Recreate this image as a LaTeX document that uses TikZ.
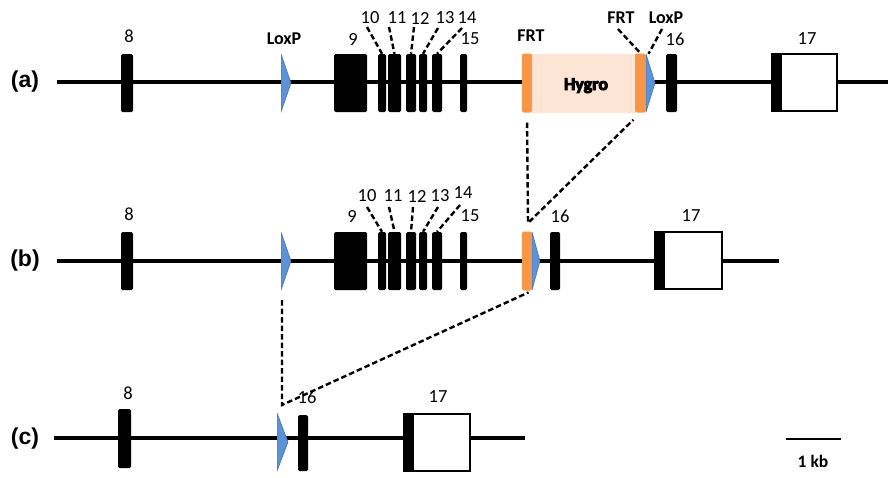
\documentclass[tikz,border=0pt]{standalone}
\usepackage{fontspec}
\setmainfont{Carlito}
\newfontfamily\arialf{Liberation Sans}
\newfontface\hygrof{Carlito Bold}[FakeBold=5]
\definecolor{loxblue}{RGB}{92,146,214}
\definecolor{loxedge}{RGB}{70,115,185}
\definecolor{frtor}{RGB}{247,150,70}
\definecolor{hygrofill}{RGB}{252,229,213}
\tikzset{
  backbone/.style={line width=4pt},
  exon/.style={fill=black, draw=none, rounded corners=1.5pt, minimum height=58pt, inner sep=0pt},
  bigexon/.style={draw=black, line width=2pt, fill=white, minimum height=57pt, inner sep=0pt,
    path picture={\fill[black] (path picture bounding box.north west) rectangle ([xshift=10pt]path picture bounding box.south west);}},
  loxp/.style={draw=none, minimum height=58pt, inner sep=0pt,
    path picture={\fill[loxblue, draw=loxedge, line width=0.6pt] (path picture bounding box.north west) -- (path picture bounding box.east) -- (path picture bounding box.south west) -- cycle;}},
  frt/.style={fill=frtor, draw=none, rounded corners=2pt, minimum height=59pt, inner sep=0pt},
  hygrobox/.style={fill=hygrofill, draw=none, minimum height=59pt, inner sep=0pt},
  num/.style={inner sep=0pt, font=\fontsize{18.5}{20}\selectfont},
  blab/.style={inner sep=0pt, font=\fontsize{18}{20}\selectfont\bfseries},
  rowlab/.style={inner sep=0pt, font=\fontsize{23}{26}\selectfont\arialf\bfseries},
  dashline/.style={line width=2.4pt, dash pattern=on 5.5pt off 3pt},
}
\begin{document}
\begin{tikzpicture}[x=1pt,y=-1pt]
\useasboundingbox (0,0) rectangle (888,477);

% ---------- row (a) ----------
\node[rowlab] (ra) at (25,82) {(a)};
\coordinate (a0) at (57,82);
\coordinate (a1) at (888,82);
\draw[backbone] (a0) -- (a1);
\node[exon, minimum width=12pt] (a8) at (127,83) {};
\node[loxp, minimum width=10pt] (la1) at (286,83) {};
\node[exon, minimum width=33pt] (a9) at (350.5,83) {};
\node[exon, minimum width=8pt] (a10) at (382,83) {};
\node[exon, minimum width=13pt] (a11) at (394.5,83) {};
\node[exon, minimum width=10pt] (a12) at (411,83) {};
\node[exon, minimum width=8pt] (a13) at (423,83) {};
\node[exon, minimum width=10pt] (a14) at (437,83) {};
\node[exon, minimum width=7pt] (a15) at (463.5,83) {};
\node[hygrobox, minimum width=104pt] (hyg) at (584,83) {};
\node[frt, minimum width=10pt] (frtLa) at (527,83) {};
\node[frt, minimum width=11pt] (frtRa) at (640.5,83) {};
\node[loxp, minimum width=9pt] (la2) at (650.5,83) {};
\node[exon, minimum width=11pt] (a16) at (671.5,83) {};
\node[bigexon, minimum width=65pt] (a17) at (804.5,82.5) {};
\node[inner sep=0pt, anchor=base, font=\fontsize{18}{20}\selectfont\hygrof] (hygt) at (586,90) {Hygro};

\node[num] (ta8) at (129,36) {8};
\node[blab] (tla1) at (284,39) {LoxP};
\node[num] (ta9) at (353,39) {9};
\node[num] (ta10) at (370,18) {10};
\node[num] (ta11) at (397,18) {11};
\node[num] (ta12) at (420,18) {12};
\node[num] (ta13) at (445,18) {13};
\node[num] (ta14) at (467,18) {14};
\node[num] (ta15) at (470,39) {15};
\node[blab] (tfrt1) at (531,36) {FRT};
\node[blab] (tfrt2) at (621,18) {FRT};
\node[blab] (tla2) at (666,18) {LoxP};
\node[num] (ta16) at (675,39) {16};
\node[num] (ta17) at (807,39) {17};

\coordinate (sa10) at (367,27);
\coordinate (sa11) at (389,27);
\coordinate (sa12) at (414,27);
\coordinate (sa13) at (438,28);
\coordinate (sa14) at (462,28);
\coordinate (sfrt) at (618,29);
\coordinate (slox) at (662,29);
\draw[dashline] (sa10) -- (a10.north);
\draw[dashline] (sa11) -- (a11.north);
\draw[dashline] (sa12) -- (a12.north);
\draw[dashline] (sa13) -- (a13.north);
\draw[dashline] (sa14) -- (a14.north);
\draw[dashline] (sfrt) -- (frtRa.north);
\draw[dashline] (slox) -- ([xshift=-2pt]la2.north);

% ---------- row (b) ----------
\node[rowlab] (rb) at (25,261) {(b)};
\coordinate (b0) at (57,261);
\coordinate (b1) at (779,261);
\draw[backbone] (b0) -- (b1);
\node[exon, minimum width=12pt] (b8) at (127,261) {};
\node[loxp, minimum width=10pt] (lb1) at (286,261) {};
\node[exon, minimum width=33pt] (b9) at (350.5,261) {};
\node[exon, minimum width=8pt] (b10) at (382,261) {};
\node[exon, minimum width=13pt] (b11) at (394.5,261) {};
\node[exon, minimum width=10pt] (b12) at (411,261) {};
\node[exon, minimum width=8pt] (b13) at (423,261) {};
\node[exon, minimum width=10pt] (b14) at (437,261) {};
\node[exon, minimum width=7pt] (b15) at (463.5,261) {};
\node[frt, minimum width=10pt] (frtb) at (527,261) {};
\node[loxp, minimum width=8pt] (lb2) at (536,261) {};
\node[exon, minimum width=10pt] (b16) at (555,261) {};
\node[bigexon, minimum width=67pt] (b17) at (688.5,260.5) {};

\node[num] (tb8) at (129,214) {8};
\node[num] (tb9) at (352,216) {9};
\node[num] (tb10) at (367,196) {10};
\node[num] (tb11) at (393,196) {11};
\node[num] (tb12) at (417,196) {12};
\node[num] (tb13) at (440,196) {13};
\node[num] (tb14) at (463,193) {14};
\node[num] (tb15) at (470,216) {15};
\node[num] (tb16) at (560,216) {16};
\node[num] (tb17) at (691,216) {17};

\coordinate (sb10) at (367,207);
\coordinate (sb11) at (389,207);
\coordinate (sb12) at (413,207);
\coordinate (sb13) at (438,207);
\coordinate (sb14) at (460,205);
\draw[dashline] (sb10) -- (b10.north);
\draw[dashline] (sb11) -- (b11.north);
\draw[dashline] (sb12) -- (b12.north);
\draw[dashline] (sb13) -- (b13.north);
\draw[dashline] (sb14) -- (b14.north);

% ---------- row (c) ----------
\node[rowlab] (rc) at (25,439) {(c)};
\coordinate (c0) at (54,438);
\coordinate (c1) at (525,438);
\draw[backbone] (c0) -- (c1);
\node[exon, minimum width=13pt, minimum height=59pt] (c8) at (124.5,438.5) {};
\node[loxp, minimum width=11pt] (lc1) at (282.5,442) {};
\node[exon, minimum width=10pt, minimum height=56pt] (c16) at (303,443) {};
\node[bigexon, minimum width=66pt] (c17) at (437,442) {};

\node[num] (tc8) at (128,393) {8};
\node[num] (tc16) at (307,397) {16};
\node[num] (tc17) at (438,397) {17};

% ---------- deletion guides ----------
\coordinate (m1) at (528,223);
\draw[dashline, shorten <=10pt, shorten >=10pt] (frtLa.south) -- (m1) -- (frtRa.south);
\coordinate (m2) at (282,405);
\draw[dashline, shorten <=10pt, shorten >=4pt] ([xshift=-4pt]lb1.south) -- (m2) -- (frtb.south east);

% ---------- scale bar ----------
\coordinate (s0) at (786,439);
\coordinate (s1) at (841,439);
\draw[line width=2pt] (s0) -- (s1);
\node[blab, font=\fontsize{17.5}{20}\selectfont\bfseries] (kb) at (813,461) {1 kb};
\end{tikzpicture}
\end{document}
